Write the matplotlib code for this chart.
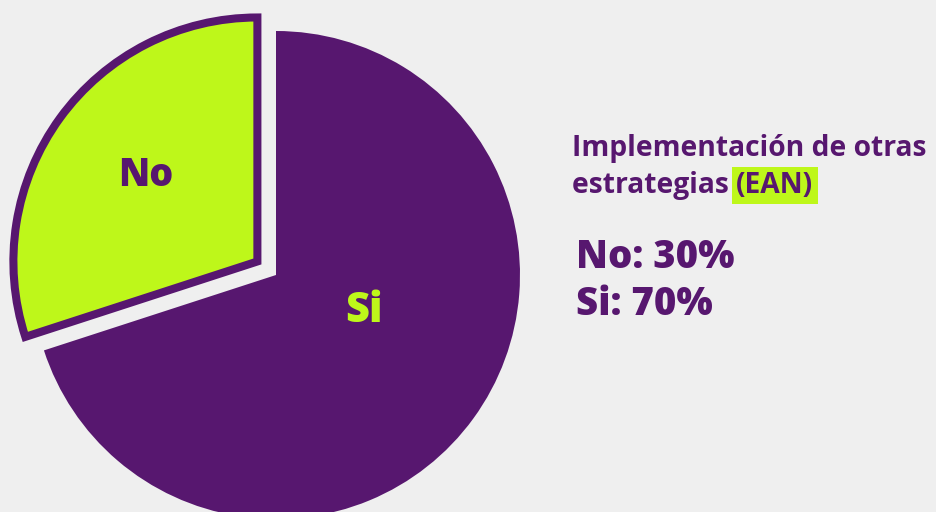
import matplotlib
matplotlib.use("Agg")
import matplotlib.pyplot as plt

# data
labels = ["No", "Si"]
values = [30, 70]
title_lines = ["Implementación de otras", "estrategias"]
title_tag = "(EAN)"

purple = "#57176f"
lime = "#bef71a"
bg = "#efefef"

plt.rcParams["font.family"] = ["Open Sans", "DejaVu Sans"]

fig = plt.figure(figsize=(9.36, 5.12), dpi=100)
fig.patch.set_facecolor(bg)
ax = fig.add_axes([0, 0, 1, 1])

wedges, _ = ax.pie(values, startangle=90, counterclock=True,
                   colors=[lime, purple], explode=[23, 0],
                   center=(276, 237), radius=244, frame=True)
ax.set_xlim(0, 936)
ax.set_ylim(0, 512)
ax.axis("off")
wedges[0].set_edgecolor(purple)
wedges[0].set_linewidth(5.8)
wedges[0].set_joinstyle("miter")

ax.text(146, 512 - 176, labels[0], color=purple, fontsize=27,
        fontweight="heavy", ha="center", va="center")
ax.text(364, 512 - 311, labels[1], color=lime, fontsize=30,
        fontweight="heavy", ha="center", va="center")

# right side text
fs_title = 20.3
ax.text(572, 512 - 156, title_lines[0], color=purple, fontsize=fs_title,
        fontweight="bold", ha="left", va="baseline")
t2 = ax.text(572, 512 - 193, title_lines[1] + " ", color=purple, fontsize=fs_title,
             fontweight="bold", ha="left", va="baseline")
fig.canvas.draw()
ext = t2.get_window_extent()
x_tag = ax.transData.inverted().transform((ext.x1, 0))[0]
ax.text(x_tag, 512 - 193, title_tag, color=purple, fontsize=fs_title,
        fontweight="bold", ha="left", va="baseline",
        bbox=dict(boxstyle="square,pad=0.15", fc=lime, ec="none"))

ax.text(576, 512 - 268, f"{labels[0]}: {values[0]}%", color=purple,
        fontsize=27.5, fontweight="heavy", ha="left", va="baseline")
ax.text(576, 512 - 315, f"{labels[1]}: {values[1]}%", color=purple,
        fontsize=27.5, fontweight="heavy", ha="left", va="baseline")

fig.savefig("out.png", dpi=100, facecolor=bg)
